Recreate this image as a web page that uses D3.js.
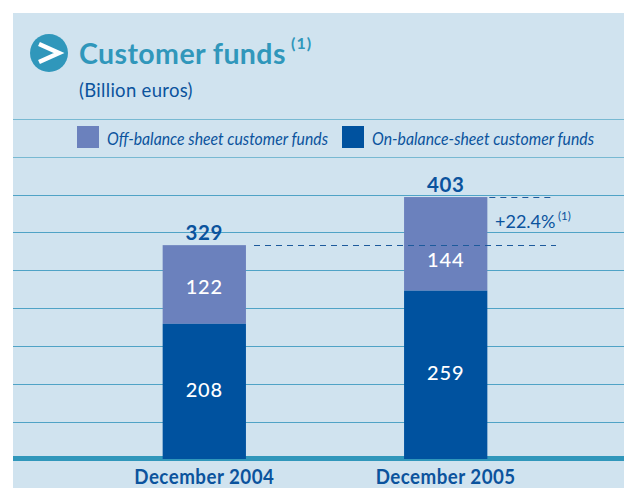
<!DOCTYPE html>
<html><head><meta charset="utf-8">
<script src="https://cdn.jsdelivr.net/npm/d3@7/dist/d3.min.js"></script>
<style>html,body{margin:0;padding:0;background:#fff}svg{display:block}text{font-family:Lato,"Noto Sans",sans-serif}</style>
</head><body><svg id="c" width="624" height="488"></svg>
<script>
const categories=["December 2004","December 2005"];
const onBalance=[208,259];
const offBalance=[122,144];
const totals=[329,403];
const gridValues=[57,115,174,232,291,349,406,465,523];
const seriesNames=["Off-balance sheet customer funds","On-balance-sheet customer funds"];
const growthLabel="+22.4%";
const BLUE="#00529f",LIGHT="#6b81bd",TEAL="#3097bb",BG="#d0e3ef",TXT="#0b539d";

const svg=d3.select("#c");
const y=d3.scaleLinear().domain([0,600]).range([459,69]);
const x=d3.scaleBand().domain(categories).range([83,567]).paddingInner(0.655).paddingOuter(0.33);
const cx=c=>x(c)+x.bandwidth()/2;
const snap=v=>Math.round(v)+.5;

svg.append("rect").attr("x",13).attr("y",13).attr("width",611).attr("height",475).attr("fill",BG);

svg.append("g").selectAll("line").data(gridValues).join("line")
 .attr("x1",13).attr("x2",624).attr("y1",d=>snap(y(d))).attr("y2",d=>snap(y(d)))
 .attr("stroke",(d,i)=>i>=7?"#78b9d2":"#4fa3c6").attr("stroke-width",1.2);

categories.forEach((c,i)=>{
 const w=x.bandwidth();
 svg.append("rect").attr("x",x(c)).attr("width",w).attr("y",y(totals[i])).attr("height",y(onBalance[i])-y(totals[i])).attr("fill",LIGHT);
 svg.append("rect").attr("x",x(c)).attr("width",w).attr("y",y(onBalance[i])).attr("height",y(0)-y(onBalance[i])).attr("fill",BLUE);
});

svg.append("rect").attr("x",13).attr("y",456).attr("width",611).attr("height",5).attr("fill",TEAL);
categories.forEach(c=>svg.append("rect").attr("x",x(c)).attr("width",x.bandwidth()).attr("y",456).attr("height",3).attr("fill",BLUE));

const dash=(x1,x2,v)=>svg.append("line").attr("x1",x1).attr("x2",x2).attr("y1",snap(y(v))).attr("y2",snap(y(v))).attr("stroke","#1d5a9c").attr("stroke-width",1).attr("stroke-dasharray","6 5");
dash(x(categories[1])+x.bandwidth()+2,554,totals[1]);
dash(254,556,totals[0]+1);

const label=(t,px,py,size,fill,weight,anchor,ls)=>svg.append("text").attr("x",px).attr("y",py).attr("font-size",size).attr("fill",fill)
  .attr("font-weight",weight||400).attr("text-anchor",anchor||"start").attr("letter-spacing",ls||0).text(t);
const fit=(e,w)=>e.attr("textLength",w).attr("lengthAdjust","spacingAndGlyphs");

const offY=[294,267];
const onY=[397,380];
categories.forEach((c,i)=>{
 label(totals[i],cx(c),y(totals[i])-5,20.5,TXT,700,"middle",.6);
 label(offBalance[i],cx(c),offY[i],20,"#fff",500,"middle",.8);
 label(onBalance[i],cx(c),onY[i],20,"#fff",500,"middle",.8);
 fit(label(c,cx(c),484,20,TXT,700,"middle",.5),140);
});

label(growthLabel,495,228,18,TXT,400,"start",0);
label("(1)",558,220,11.5,TXT,400);

svg.append("circle").attr("cx",49).attr("cy",53).attr("r",19).attr("fill",TEAL);
svg.append("path").attr("d",d3.line()([[39,44],[59,53],[39,62]])).attr("fill","none").attr("stroke","#fff").attr("stroke-width",4.5);
label("Customer funds",79,64,28.5,TEAL,700,"start",.4);
label("(1)",291,49,16,TEAL,700,"start",1);
label("(Billion euros)",79,97,18.5,TXT,400,"start",.3);

svg.append("rect").attr("x",77).attr("y",126).attr("width",22).attr("height",22).attr("fill",LIGHT);
svg.append("rect").attr("x",342).attr("y",126).attr("width",22).attr("height",22).attr("fill",BLUE);
fit(label(seriesNames[0],107,145,17,TXT,400,"start",0),221).attr("font-style","italic");
fit(label(seriesNames[1],372,145,17,TXT,400,"start",0),222).attr("font-style","italic");
</script></body></html>
